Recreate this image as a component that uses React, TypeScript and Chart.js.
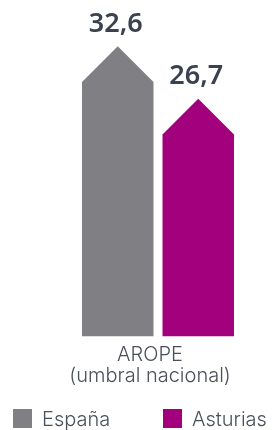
import React, { useEffect, useRef } from "react";
import { Chart, registerables } from "chart.js";

Chart.register(...registerables);

const categories = [["AROPE", "(umbral nacional)"]];
const seriesNames = ["España", "Asturias"];
const espanaValues = [32.6];
const asturiasValues = [26.7];
const seriesColors = ["#807f84", "#a2007c"];

const TEXT_COLOR = "#4a505a";
const LABEL_FONT = "Inter, 'Noto Sans', sans-serif";

const arrowBars = {
  id: "arrowBars",
  beforeDatasetDraw(chart: any, args: any) {
    const ctx = chart.ctx;
    const meta = args.meta;
    const ds = chart.data.datasets[args.index];
    ctx.save();
    meta.data.forEach((el: any) => {
      const { x, y, base, width } = el.getProps(["x", "y", "base", "width"], true);
      const half = width / 2;
      ctx.beginPath();
      ctx.moveTo(x - half, base);
      ctx.lineTo(x - half, y + half);
      ctx.lineTo(x, y);
      ctx.lineTo(x + half, y + half);
      ctx.lineTo(x + half, base);
      ctx.closePath();
      ctx.fillStyle = ds.backgroundColor;
      ctx.fill();
    });
    ctx.restore();
    return false;
  },
  afterDatasetsDraw(chart: any) {
    const ctx = chart.ctx;
    ctx.save();
    ctx.fillStyle = "#3a4250";
    ctx.font = "600 27px 'Noto Sans', sans-serif";
    ctx.textAlign = "center";
    ctx.textBaseline = "middle";
    chart.data.datasets.forEach((ds: any, i: number) => {
      const meta = chart.getDatasetMeta(i);
      meta.data.forEach((el: any, j: number) => {
        const v = ds.data[j];
        ctx.fillText(String(v).replace(".", ","), el.x - 2, el.y - 22);
      });
    });
    ctx.restore();
  },
  afterDraw(chart: any) {
    const ctx = chart.ctx;
    const starts = [13, 163];
    const box = 19;
    const top = 409;
    ctx.save();
    ctx.font = `300 20px ${LABEL_FONT}`;
    ctx.textBaseline = "middle";
    ctx.textAlign = "left";
    chart.data.datasets.forEach((ds: any, i: number) => {
      const x0 = starts[i];
      ctx.fillStyle = ds.backgroundColor;
      ctx.fillRect(x0, top, box, box);
      ctx.fillStyle = TEXT_COLOR;
      ctx.fillText(ds.label, x0 + box + 10, top + box / 2 + 1);
    });
    ctx.restore();
  },
};

export default function App() {
  const ref = useRef<HTMLCanvasElement>(null);
  useEffect(() => {
    if (!ref.current) return;
    const chart = new Chart(ref.current, {
      type: "bar",
      data: {
        labels: categories,
        datasets: [
          { label: seriesNames[0], data: espanaValues, backgroundColor: seriesColors[0], borderWidth: 0 },
          { label: seriesNames[1], data: asturiasValues, backgroundColor: seriesColors[1], borderWidth: 0 },
        ],
      },
      options: {
        animation: false,
        responsive: true,
        maintainAspectRatio: false,
        layout: { padding: { left: 70, right: 29, top: 7, bottom: 35 } },
        datasets: { bar: { categoryPercentage: 0.915, barPercentage: 0.888 } },
        plugins: { legend: { display: false }, tooltip: { enabled: false } },
        scales: {
          x: {
            grid: { display: false, drawTicks: false },
            border: { display: false },
            ticks: {
              color: TEXT_COLOR,
              font: { family: LABEL_FONT, size: 20, weight: "300", lineHeight: 1.02 },
              padding: 9,
              labelOffset: -8,
              maxRotation: 0,
            },
          },
          y: { display: false, min: 0, max: 37 },
        },
      },
      plugins: [arrowBars],
    });
    return () => chart.destroy();
  }, []);
  return (
    <div style={{ position: "fixed", left: 0, top: 0, width: 275, height: 430, background: "#fff" }}>
      <canvas ref={ref} />
    </div>
  );
}
